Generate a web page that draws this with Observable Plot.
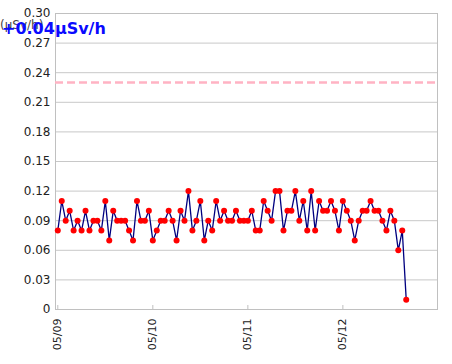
<!DOCTYPE html>
<html><head><meta charset="utf-8">
<script src="https://cdn.jsdelivr.net/npm/d3@7"></script>
<script src="https://cdn.jsdelivr.net/npm/@observablehq/plot@0.6"></script>
<style>
body{margin:0;background:#fff;}
#wrap{position:relative;width:452px;height:364px;overflow:hidden;}
.unit{position:absolute;left:0;top:19px;font:12px "DejaVu Sans";line-height:12px;color:#444;white-space:nowrap;}
.delta{position:absolute;left:2px;top:21px;font:bold 16px "DejaVu Sans";line-height:16px;color:#0a0aff;white-space:nowrap;}
</style></head><body><div id="wrap"></div>
<script>
// hourly readings starting 05/09 00:00
const startDate = "2011-05-09T00:00Z";
const readings = [
  0.08,0.11,0.09,0.10,0.08,0.09,0.08,0.10,0.08,0.09,0.09,0.08,
  0.11,0.07,0.10,0.09,0.09,0.09,0.08,0.07,0.11,0.09,0.09,0.10,
  0.07,0.08,0.09,0.09,0.10,0.09,0.07,0.10,0.09,0.12,0.08,0.09,
  0.11,0.07,0.09,0.08,0.11,0.09,0.10,0.09,0.09,0.10,0.09,0.09,
  0.09,0.10,0.08,0.08,0.11,0.10,0.09,0.12,0.12,0.08,0.10,0.10,
  0.12,0.09,0.11,0.08,0.12,0.08,0.11,0.10,0.10,0.11,0.10,0.08,
  0.11,0.10,0.09,0.07,0.09,0.10,0.10,0.11,0.10,0.10,0.09,0.08,
  0.10,0.09,0.06,0.08,0.01
];
const yTicks = [0,0.03,0.06,0.09,0.12,0.15,0.18,0.21,0.24,0.27,0.30];
const dayLabels = ["05/09","05/10","05/11","05/12"];
const limitValue = 0.23;
const unitLabel = "(μSv/h)";
const deltaLabel = "+0.04μSv/h";

const H = 3600e3;
const t0 = new Date(startDate);
const data = readings.map((v, i) => ({t: new Date(+t0 + i * H), v}));
const dayTicks = dayLabels.map(s => { const [m, d] = s.split("/").map(Number); return new Date(Date.UTC(2011, m - 1, d)); });
const fmtDay = d3.utcFormat("%m/%d");

const chart = Plot.plot({
  width: 452, height: 364,
  marginLeft: 55, marginRight: 15, marginTop: 13, marginBottom: 55,
  style: {fontFamily: "DejaVu Sans", fontSize: "11px", color: "#222", background: "#fff"},
  x: {type: "utc", domain: [new Date(+t0 - 0.58 * H), new Date(+t0 + 95.9 * H)]},
  y: {domain: [0, 0.30]},
  marks: [
    Plot.gridY(yTicks, {stroke: "#c8c8c8", strokeOpacity: 1}),
    Plot.frame({stroke: "#c0c0c0"}),
    Plot.ruleY([limitValue], {stroke: "#ffb3c3", strokeWidth: 2.5, strokeDasharray: "8,4"}),
    Plot.axisY(yTicks, {tickSize: 0, tickPadding: 5, tickFormat: d => d === 0 ? "0" : d.toFixed(2), label: null, fontSize: 12}),
    Plot.axisX(dayTicks, {tickSize: 0, tickRotate: -90, tickPadding: 9, tickFormat: d => fmtDay(d), label: null, fontSize: 11}),
    Plot.tickX(dayTicks, {x: d => d, stroke: "#c0c0c0", insetTop: 292}),
    Plot.line(data, {x: "t", y: "v", stroke: "#000080", strokeWidth: 1.3}),
    Plot.dot(data, {x: "t", y: "v", r: 3, fill: "#ff0000"})
  ]
});
const wrap = document.getElementById("wrap");
wrap.appendChild(chart);
const u = document.createElement("div"); u.className = "unit"; u.textContent = unitLabel; wrap.appendChild(u);
const dl = document.createElement("div"); dl.className = "delta"; dl.textContent = deltaLabel; wrap.appendChild(dl);
</script></body></html>
